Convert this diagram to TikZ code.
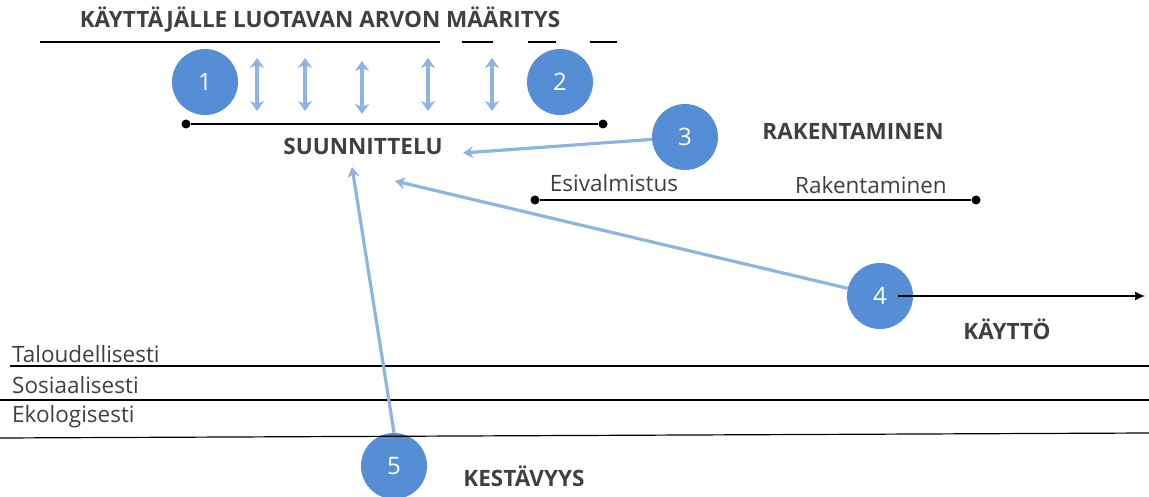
\documentclass[tikz,border=0pt]{standalone}
\usepackage{fontspec}
\setmainfont{Open Sans}
\usetikzlibrary{arrows.meta}
\definecolor{ballblue}{HTML}{558ED5}
\definecolor{linkblue}{HTML}{8DB4E2}
\definecolor{ink}{HTML}{404040}
\tikzset{
  ball/.style={circle, fill=ballblue, minimum size=66pt, inner sep=0pt, text=white, font=\fontsize{24}{24}\selectfont},
  heading/.style={text=ink, font=\fontsize{22.5}{22.5}\selectfont\bfseries, inner sep=0pt},
  label/.style={text=ink, font=\fontsize{22.5}{22.5}\selectfont, inner sep=0pt},
  rule/.style={black, line width=1.2pt},
  dotrule/.style={black, line width=1.3pt},
  endpoint/.style={circle, fill=black, minimum size=9pt, inner sep=0pt},
  link/.style={linkblue, line width=3.2pt, -{Stealth[length=10pt,width=12pt,inset=3pt]}},
  twoway/.style={linkblue, line width=3.5pt, {Stealth[length=10pt,width=14pt,inset=3pt]}-{Stealth[length=10pt,width=14pt,inset=3pt]}},
  flow/.style={black, line width=1.2pt, -{Latex[length=10pt,width=9pt]}}
}
\begin{document}
\begin{tikzpicture}[x=1pt,y=-1pt]
\useasboundingbox (0,0) rectangle (1149,497);

% value definition header and its broken underline
\node[heading] (title) at (320,20) {KÄYTTÄJÄLLE LUOTAVAN ARVON MÄÄRITYS};
\coordinate (u0) at (40,42);   \coordinate (u1) at (440,42);
\coordinate (u2) at (462,42);  \coordinate (u3) at (493,42);
\coordinate (u4) at (528,42);  \coordinate (u5) at (556,42);
\coordinate (u6) at (590,42);  \coordinate (u7) at (617,42);
\draw[rule] (u0) -- (u1) (u2) -- (u3) (u4) -- (u5) (u6) -- (u7);

% numbered markers
\node[ball] (c1) at (205,82) {1};
\node[ball] (c2) at (560,82) {2};
\node[ball] (c3) at (685,137) {3};
\node[ball] (c4) at (880,296) {4};
\node[ball] (c5) at (394,466) {5};

% interaction between value definition and design
\foreach \i/\x/\ya/\yb in {a/257/58/111, b/305/58/111, c/362/61/114, d/428/58/111, e/492/58/111} {
  \coordinate (t\i) at (\x,\ya);
  \coordinate (b\i) at (\x,\yb);
  \draw[twoway] (t\i) -- (b\i);
}

% design phase
\node[endpoint] (d0) at (186,124) {};
\node[endpoint] (d1) at (603,124) {};
\draw[dotrule] (d0) -- (d1);
\node[heading] (suun) at (363,146) {SUUNNITTELU};

% construction phase
\node[heading] (rak) at (853,131) {RAKENTAMINEN};
\node[label] (esi) at (614,183) {Esivalmistus};
\node[label] (rak2) at (871,185) {Rakentaminen};
\node[endpoint] (r0) at (535,200) {};
\node[endpoint] (r1) at (976,200) {};
\draw[dotrule] (r0) -- (r1);

% use phase
\coordinate (k0) at (898,296);
\coordinate (k1) at (1145,296);
\draw[flow] (k0) -- (k1);
\node[heading] (kay) at (1007,329) {KÄYTTÖ};

% sustainability bands
\node[label, anchor=west] (tal) at (12,354) {Taloudellisesti};
\node[label, anchor=west] (sos) at (12,385) {Sosiaalisesti};
\node[label, anchor=west] (eko) at (12,417) {Ekologisesti};
\coordinate (l1a) at (10,366);  \coordinate (l1b) at (1149,366);
\coordinate (l2a) at (0,400);   \coordinate (l2b) at (1149,400);
\coordinate (l3a) at (0,438);   \coordinate (l3b) at (1149,433);
\draw[rule] (l1a) -- (l1b);
\draw[rule] (l2a) -- (l2b);
\draw[rule] (l3a) -- (l3b);
\node[heading] (kes) at (524,476) {KESTÄVYYS};

% feedback to design
\coordinate (s3) at (463,153);
\coordinate (s4) at (395,181);
\coordinate (s5) at (352,167);
\draw[link] (c3) -- (s3);
\draw[link] (c4) -- (s4);
\draw[link] (c5.north) -- (s5);
\end{tikzpicture}
\end{document}
